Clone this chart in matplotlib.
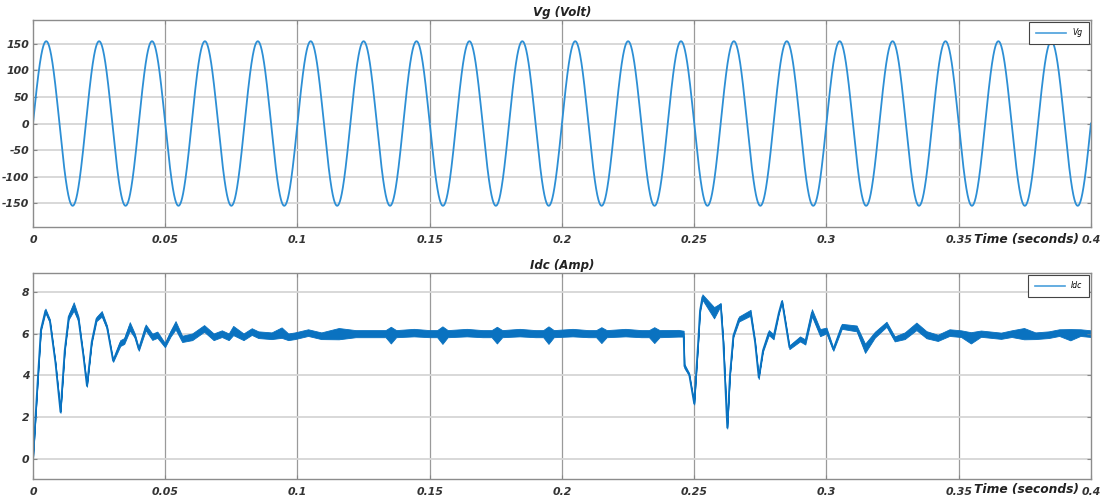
import matplotlib
matplotlib.use("Agg")
import matplotlib.pyplot as plt
import numpy as np

# grid voltage: pure 50 Hz sine, peak ~155 V
vg_peak = 155.0
vg_freq = 50.0
t_end = 0.4

# Idc band: time, centre value, half thickness of ripple band
idc_t = [0.0000, 0.0019, 0.0030, 0.0047, 0.0064, 0.0085, 0.0104, 0.0120, 0.0135, 0.0154,
         0.0172, 0.0190, 0.0204, 0.0222, 0.0240, 0.0260, 0.0280, 0.0303, 0.0330, 0.0345,
         0.0366, 0.0385, 0.0400, 0.0426, 0.0451, 0.0470, 0.0499, 0.0520, 0.0539, 0.0564,
         0.0602, 0.0647, 0.0683, 0.0714, 0.0740, 0.0757, 0.0796, 0.0827, 0.0852, 0.0902,
         0.0940, 0.0965, 0.0990, 0.1040, 0.1090, 0.1156, 0.1220,
         0.1280, 0.1333, 0.1353, 0.1373, 0.1440, 0.1500, 0.1528, 0.1548, 0.1568, 0.1640,
         0.1700, 0.1734, 0.1754, 0.1774, 0.1840, 0.1900, 0.1929, 0.1949, 0.1969, 0.2040,
         0.2100, 0.2129, 0.2149, 0.2169, 0.2240, 0.2300, 0.2329, 0.2349, 0.2369, 0.2440,
         0.2460, 0.2463, 0.2481, 0.2500, 0.2515, 0.2522, 0.2531, 0.2575, 0.2600, 0.2610,
         0.2618, 0.2625, 0.2635, 0.2648, 0.2669, 0.2713, 0.2730, 0.2744, 0.2760, 0.2782,
         0.2800, 0.2820, 0.2832, 0.2860, 0.2900, 0.2920, 0.2945, 0.2976, 0.3000, 0.3026,
         0.3058, 0.3114, 0.3146, 0.3183, 0.3227, 0.3258, 0.3296, 0.3340, 0.3378, 0.3421,
         0.3465, 0.3509, 0.3546, 0.3584, 0.3660, 0.3700, 0.3747, 0.3790, 0.3840, 0.3880,
         0.3922, 0.3960, 0.4000]
idc_mid = [0.00, 4.00, 6.20, 7.10, 6.60, 4.60, 2.25, 5.20, 6.80, 7.30,
           6.70, 5.00, 3.50, 5.60, 6.70, 6.95, 6.30, 4.70, 5.55, 5.65,
           6.35, 5.90, 5.25, 6.30, 5.85, 5.95, 5.45, 6.00, 6.40, 5.75,
           5.85, 6.25, 5.85, 6.00, 5.85, 6.15, 5.85, 6.10, 5.95, 5.90,
           6.05, 5.85, 5.90, 6.05, 5.90, 6.00, 6.00,
           6.00, 6.00, 5.93, 6.00, 6.05, 6.00, 6.00, 5.93, 6.00, 6.05,
           6.00, 6.00, 5.93, 6.00, 6.05, 6.00, 6.00, 5.93, 6.00, 6.05,
           6.00, 6.00, 5.93, 6.00, 6.05, 6.00, 6.00, 5.93, 6.00, 6.02,
           6.00, 4.45, 4.05, 2.65, 5.60, 7.10, 7.75, 7.00, 7.40, 5.60,
           3.40, 1.50, 4.00, 5.90, 6.70, 7.00, 5.60, 3.90, 5.20, 6.05,
           5.85, 7.00, 7.55, 5.35, 5.75, 5.60, 7.00, 6.05, 6.15, 5.25,
           6.35, 6.25, 5.30, 5.95, 6.45, 5.75, 5.90, 6.35, 5.95, 5.80,
           6.05, 6.00, 5.80, 6.00, 5.90, 6.00, 6.00, 5.90, 5.95, 6.05,
           5.95, 6.05, 6.00]
idc_half = [0.03, 0.04, 0.06, 0.10, 0.08, 0.04, 0.04, 0.05, 0.12, 0.20,
            0.12, 0.05, 0.04, 0.06, 0.10, 0.13, 0.08, 0.05, 0.14, 0.14,
            0.20, 0.10, 0.07, 0.14, 0.15, 0.15, 0.10, 0.14, 0.20, 0.15,
            0.16, 0.16, 0.16, 0.16, 0.16, 0.22, 0.16, 0.16, 0.16, 0.16,
            0.25, 0.16, 0.16, 0.16, 0.16, 0.27, 0.17,
            0.17, 0.17, 0.40, 0.17, 0.18, 0.17, 0.17, 0.42, 0.17, 0.18,
            0.17, 0.17, 0.40, 0.17, 0.18, 0.17, 0.17, 0.42, 0.17, 0.18,
            0.17, 0.17, 0.38, 0.17, 0.18, 0.17, 0.17, 0.38, 0.17, 0.16,
            0.14, 0.10, 0.06, 0.04, 0.05, 0.08, 0.13, 0.27, 0.06, 0.05,
            0.04, 0.04, 0.04, 0.06, 0.12, 0.14, 0.08, 0.07, 0.06, 0.12,
            0.12, 0.05, 0.06, 0.09, 0.12, 0.12, 0.17, 0.17, 0.14, 0.07,
            0.12, 0.14, 0.22, 0.14, 0.12, 0.12, 0.16, 0.18, 0.17, 0.15,
            0.16, 0.16, 0.27, 0.15, 0.15, 0.16, 0.27, 0.16, 0.16, 0.16,
            0.27, 0.16, 0.16]

xticks = [0, 0.05, 0.1, 0.15, 0.2, 0.25, 0.3, 0.35, 0.4]
xlabels = ["0", "0.05", "0.1", "0.15", "0.2", "0.25", "0.3", "0.35", "0.4"]
vg_ticks = [-150, -100, -50, 0, 50, 100, 150]
idc_ticks = [0, 2, 4, 6, 8]

t = np.linspace(0, t_end, 8001)
vg = vg_peak * np.sin(2 * np.pi * vg_freq * t)
idc_t = np.array(idc_t)
idc_mid = np.array(idc_mid)
idc_half = np.array(idc_half)

fig = plt.figure(figsize=(11.07, 5.04), dpi=100)
ax1 = fig.add_axes([0.0298, 0.5496, 0.9557, 0.4107])
ax2 = fig.add_axes([0.0298, 0.0496, 0.9557, 0.4087])

tickfont = dict(fontsize=7.8, fontweight="bold", fontstyle="italic", color="#333333")

def style(ax, yticks, ylim, title, legend_name):
    ax.set_xlim(0, t_end)
    ax.set_ylim(*ylim)
    ax.set_xticks(xticks)
    ax.set_xticklabels(xlabels, **tickfont)
    ax.set_yticks(yticks)
    ax.set_yticklabels([str(v) for v in yticks], **tickfont)
    ax.tick_params(axis="y", direction="in", length=3, color="#888888", right=True, pad=2.5)
    ax.tick_params(axis="x", direction="in", length=3, color="#888888", top=True, pad=6)
    for s in ax.spines.values():
        s.set_color("#8c8c8c")
        s.set_linewidth(1.0)
    for v in xticks[1:-1]:
        ax.axvline(v, color="#9a9a9a", lw=0.9, zorder=0)
    for v in yticks:
        ax.axhline(v, color="#d6d6d6", lw=1.3, zorder=0)
    ax.set_title(title, fontsize=8.5, fontweight="bold", fontstyle="italic",
                 color="#222222", pad=3)
    leg = ax.legend([plt.Line2D([], [], color="#4a9fdc", lw=1.2)], [legend_name],
                    loc="upper right", prop=dict(style="italic", size=5.5),
                    fancybox=False, edgecolor="#444444", framealpha=1,
                    borderaxespad=0.2, handlelength=4.0, borderpad=0.9)
    leg.get_frame().set_linewidth(0.8)

ax1.plot(t, vg, color="#2d8fd5", lw=1.3)
style(ax1, vg_ticks, (-195, 195), "Vg (Volt)", "Vg")

ax2.fill_between(idc_t, idc_mid - idc_half, idc_mid + idc_half, color="#0a72c0", lw=0.6,
                 edgecolor="#0a72c0")
ax2.plot(idc_t, idc_mid, color="#0a72c0", lw=1.3)
style(ax2, idc_ticks, (-0.95, 8.9), "Idc (Amp)", "Idc")

lab = dict(fontsize=8.8, fontweight="bold", fontstyle="italic", color="#222222",
           ha="center", va="center")
fig.text(1027 / 1107, 1 - 239 / 504, "Time (seconds)", **lab)
fig.text(1027 / 1107, 1 - 490 / 504, "Time (seconds)", **lab)

fig.savefig("out.png", dpi=100)
